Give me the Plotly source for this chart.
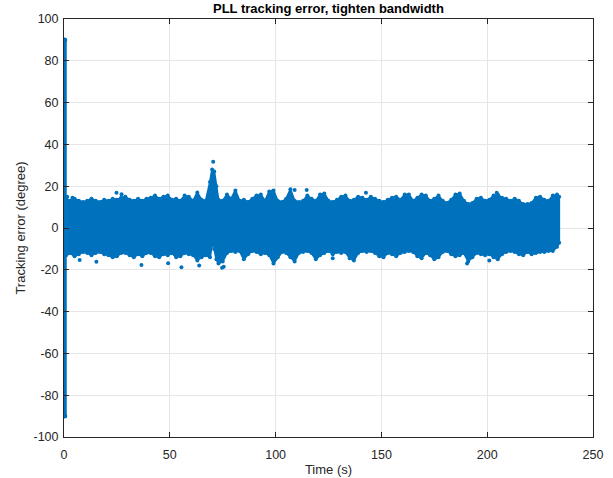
import plotly.graph_objects as go

BLUE = "#0072BD"

# ---- data ----
x_ticks = [0, 50, 100, 150, 200, 250]
x_tick_labels = ["0", "50", "100", "150", "200", "250"]
y_ticks = [-100, -80, -60, -40, -20, 0, 20, 40, 60, 80, 100]
y_tick_labels = ["-100", "-80", "-60", "-40", "-20", "0", "20", "40", "60", "80", "100"]

# initial transient (t ~ 0 s) spans roughly -90 .. 90 degrees
transient_t = [0.35, 0.35]
transient_err = [-90, 90]

# upper / lower envelope of the dense tracking-error cloud
env_t = [1, 3, 5, 7, 9, 11, 13, 15, 17, 19, 21, 23, 25, 27, 29, 31, 33, 35, 37, 39,
         41, 43, 45, 47, 49, 51, 53, 55, 57, 59, 61, 63, 65, 67, 69, 70, 71, 72, 73, 75,
         77, 79, 81, 83, 85, 87, 89, 91, 93, 95, 97, 99, 101, 103, 105, 107, 109, 111, 113, 115,
         117, 119, 121, 123, 125, 127, 129, 131, 133, 135, 137, 139, 141, 143, 145, 147, 149, 151, 153, 155,
         157, 159, 161, 163, 165, 167, 169, 171, 173, 175, 177, 179, 181, 183, 185, 187, 189, 191, 193, 195,
         197, 199, 201, 203, 205, 207, 209, 211, 213, 215, 217, 219, 221, 223, 225, 227, 229, 231, 233, 234]
env_upper = [14, 13, 14, 13, 12.5, 13, 14, 13, 12.5, 13.5, 13, 14, 13.5, 14.5, 15, 13.5, 13, 14, 13, 14,
             14.5, 15.5, 14, 15, 15.5, 13.5, 14, 13, 15.5, 15, 13, 17, 13.5, 13, 22, 28, 27, 20, 13.5, 13,
             16, 14, 18, 13, 13.5, 12.5, 14, 15.5, 16, 13, 17.5, 18, 13, 12.5, 14, 18.5, 13, 12.5, 13, 15.5,
             14, 13, 16, 16.5, 13, 12.5, 13.5, 15, 15.5, 13, 13.5, 15, 14.5, 13.5, 15, 14, 13, 12.5, 13.5, 14.5,
             15, 13.5, 16, 16, 13, 14.5, 16, 15.5, 13, 14, 15.5, 13, 12, 13.5, 16, 16.5, 13, 11.5, 12, 14,
             14.5, 13, 13.5, 15.5, 16, 14.5, 14, 13, 14, 13, 11.5, 11.5, 12, 14.5, 15, 13.5, 13, 15.5, 16, 15]
lower_t = [1, 3, 5, 7, 9, 11, 13, 15, 17, 19, 21, 23, 25, 27, 29, 31, 33, 35, 37, 39,
           41, 43, 45, 47, 49, 51, 53, 55, 57, 59, 61, 63, 65, 67, 69, 70, 70.5, 71, 72, 73, 75,
           77, 79, 81, 83, 85, 87, 89, 91, 93, 95, 97, 99, 101, 103, 105, 107, 109, 111, 113, 115,
           117, 119, 121, 123, 125, 127, 129, 131, 133, 135, 137, 139, 141, 143, 145, 147, 149, 151, 153, 155,
           157, 159, 161, 163, 165, 167, 169, 171, 173, 175, 177, 179, 181, 183, 185, 187, 189, 191, 193, 195,
           197, 199, 201, 203, 205, 207, 209, 211, 213, 215, 217, 219, 221, 223, 225, 227, 229, 231, 233, 234]
env_lower = [-13, -12, -13.5, -12.5, -11.5, -12, -13, -12, -11.5, -12.5, -13, -14, -13.5, -12, -12, -13, -14, -12.5, -13.5, -12,
             -12, -13.5, -14, -12.5, -13, -12, -14, -13.5, -12, -12.5, -13, -15.5, -14, -13, -14, -8, 0, -10, -15, -17, -16,
             -12, -11, -11.5, -11, -15, -12.5, -11, -11.5, -12.5, -12, -13, -17, -14, -11.5, -12, -14, -16, -12, -11.5, -11,
             -12, -15, -13, -12, -11, -12.5, -11.5, -12, -11.5, -14.5, -15.5, -12, -11, -11.5, -11, -12, -13.5, -14, -12, -12.5,
             -13.5, -12, -11.5, -11, -11.5, -13.5, -14.5, -12, -13, -15, -14, -11.5, -11, -12.5, -13.5, -13, -12, -16, -14, -12,
             -12.5, -13, -12.5, -14, -15, -12.5, -11.5, -11, -11.5, -12.5, -13, -11.5, -12.5, -12, -11.5, -11.5, -11, -11, -9, -7]

# isolated outlier samples
outlier_t = [1.5, 4, 24.8, 27.2, 7.4, 15.3, 36.6, 49.2, 55.5, 63.9, 70.5, 74.7, 75.5, 109, 114.7, 142.7,
             204.5, 127, 190.5, 201]
outlier_err = [15, 14.5, 16.9, 16.1, -15.3, -16.1, -17.7, -16.9, -18.8, -18.0, 31.7, -19, -18.5, 18.2, 18.2, 16.9,
               16.9, -14.5, -17, -15.5]

fig = go.Figure()

# filled envelope polygon
poly_x = env_t + lower_t[::-1]
poly_y = env_upper + env_lower[::-1]
fig.add_trace(go.Scatter(x=poly_x, y=poly_y, mode="lines", fill="toself",
                         fillcolor=BLUE, line=dict(color=BLUE, width=2), hoverinfo="skip",
                         showlegend=False))
fig.add_trace(go.Scatter(x=env_t, y=env_upper, mode="markers",
                         marker=dict(color=BLUE, size=4), showlegend=False))
fig.add_trace(go.Scatter(x=lower_t, y=env_lower, mode="markers",
                         marker=dict(color=BLUE, size=4), showlegend=False))
fig.add_trace(go.Scatter(x=transient_t, y=transient_err, mode="lines+markers",
                         line=dict(color=BLUE, width=4), marker=dict(color=BLUE, size=5),
                         showlegend=False))
fig.add_trace(go.Scatter(x=outlier_t, y=outlier_err, mode="markers",
                         marker=dict(color=BLUE, size=4), showlegend=False))

FONT = "Liberation Sans, Arial, Helvetica, sans-serif"
axis_common = dict(showgrid=True, gridcolor="#e6e6e6", gridwidth=1,
                   showline=True, linecolor="#262626", linewidth=1, mirror="ticks",
                   ticks="inside", ticklen=5, tickcolor="#262626",
                   tickfont=dict(family=FONT, size=12.5, color="#262626"),
                   zeroline=False, automargin=False)

fig.update_layout(
    width=613, height=478,
    margin=dict(l=64, r=20, t=19, b=41),
    plot_bgcolor="white", paper_bgcolor="white",
    font=dict(family=FONT, color="#262626"),
    xaxis=dict(range=[0, 250], tickmode="array", tickvals=x_ticks, ticktext=x_tick_labels,
               ticklabelstandoff=6,
               title=dict(text="Time (s)", font=dict(family=FONT, size=13, color="#262626"), standoff=3),
               **axis_common),
    yaxis=dict(range=[-100, 100], tickmode="array", tickvals=y_ticks, ticktext=y_tick_labels,
               ticklabelstandoff=2,
               title=dict(text="Tracking error (degree)", font=dict(family=FONT, size=13, color="#262626"), standoff=4),
               **axis_common),
    annotations=[dict(text="<b>PLL tracking error, tighten bandwidth</b>", x=0.5, y=1,
                      xref="paper", yref="paper", xanchor="center", yanchor="bottom",
                      showarrow=False, yshift=1, font=dict(family=FONT, size=13, color="#000000"))],
)

fig.write_html("out.html")
